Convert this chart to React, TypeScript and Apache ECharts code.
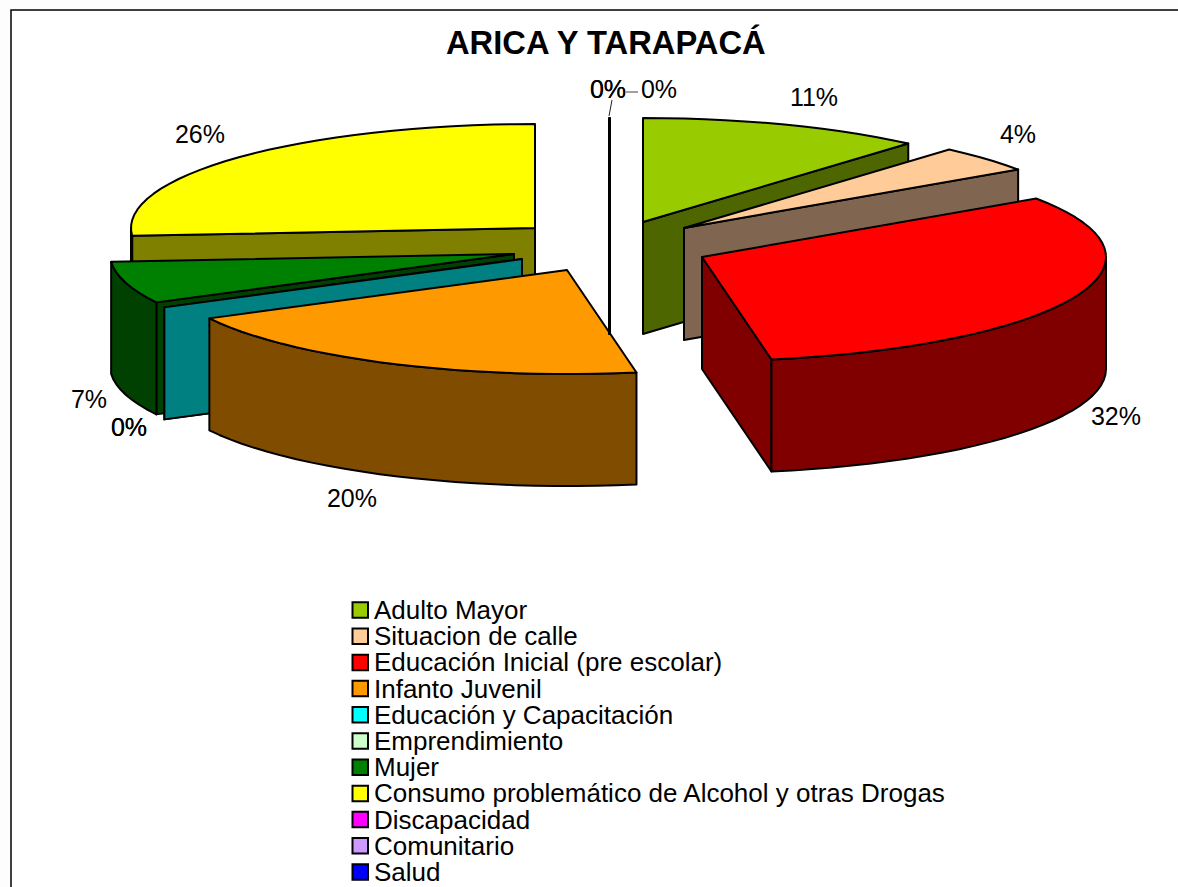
import React, { useEffect, useRef } from "react";
import * as echarts from "echarts";

const titleText = "ARICA Y TARAPACÁ";
const categories = [
  "Adulto Mayor",
  "Situacion de calle",
  "Educación Inicial (pre escolar)",
  "Infanto Juvenil",
  "Educación y Capacitación",
  "Emprendimiento",
  "Mujer",
  "Consumo problemático de Alcohol y otras Drogas",
  "Discapacidad",
  "Comunitario",
  "Salud",
];
const shares = [11.4, 4.1, 31.75, 20.05, 0, 0, 6.5, 26.2, 0, 0, 0];
const topColors = ["#99CC00", "#FFCC99", "#FF0000", "#FF9900", "#00FFFF", "#CCFFCC", "#008000", "#FFFF00", "#FF00FF", "#CC99FF", "#0000FF"];
const wallColors = ["#4D6600", "#806650", "#800000", "#804D00", "#008080", "#668066", "#004000", "#808000", "#800080", "#664D80", "#000080"];

// Layout of the exploded 3D pie
const RX = 404;
const RY = 104;
const DEPTH = 112;
const sliceApex = [
  [643, 222], [684, 228], [702, 257], [567, 270], [522, 259], [522, 259],
  [514, 254], [535, 228], [609, 222], [609.5, 222], [610, 222],
];
// back to front
const paintOrder = [7, 6, 5, 4, 3, 8, 9, 10, 0, 1, 2];
const labelCenters = [
  [814, 97], [1018, 134], [1116, 416], [352, 498], [129, 427], [129, 427],
  [89, 399], [200, 134], [608, 89], [608, 89], [659, 89],
];

const FONT = '"Liberation Sans", Arial, sans-serif';
const rad = (d: number) => (d * Math.PI) / 180;

function sliceElements(i: number) {
  const before = shares.slice(0, i).reduce((a, b) => a + b, 0);
  const a0 = (before / 100) * 360;
  const a1 = ((before + shares[i]) / 100) * 360;
  const [ax, ay] = sliceApex[i];
  const at = (deg: number, dy = 0) => [ax + RX * Math.sin(rad(deg)), ay - RY * Math.cos(rad(deg)) + dy];
  const arc = (from: number, to: number, dy = 0) => {
    const n = Math.max(1, Math.ceil(Math.abs(to - from) / 3));
    const out: number[][] = [];
    for (let k = 0; k <= n; k++) out.push(at(from + ((to - from) * k) / n, dy));
    return out;
  };
  const line = { stroke: "#000", lineWidth: 2, lineJoin: "round" };
  const wall = (deg: number) => ({
    type: "polygon",
    shape: { points: [[ax, ay], at(deg), at(deg, DEPTH), [ax, ay + DEPTH]] },
    style: { fill: wallColors[i], ...line },
  });
  const kids: any[] = [];
  if (a0 > 180 && a0 < 360 - 1e-6) kids.push(wall(a0));
  if (shares[i] === 0 && a0 >= 360 - 1e-6) kids.push(wall(360));
  if (shares[i] > 0 && a1 > 0 && a1 < 180) kids.push(wall(a1));
  const wf = Math.max(a0, 90);
  const wt = Math.min(a1, 270);
  if (shares[i] > 0 && wt > wf) {
    kids.push({
      type: "polygon",
      shape: { points: [...arc(wf, wt), ...arc(wt, wf, DEPTH)] },
      style: { fill: wallColors[i], ...line },
    });
  }
  if (shares[i] > 0) {
    kids.push({
      type: "polygon",
      shape: { points: [[ax, ay], ...arc(a0, a1)] },
      style: { fill: topColors[i], ...line },
    });
  }
  kids.push({
    type: "text",
    z2: 50,
    style: {
      text: `${Math.round(shares[i])}%`,
      x: labelCenters[i][0],
      y: labelCenters[i][1],
      align: "center",
      verticalAlign: "middle",
      font: `25px ${FONT}`,
      fill: "#000",
    },
  });
  return { type: "group", children: kids };
}

export default function App() {
  const ref = useRef<HTMLDivElement>(null);
  useEffect(() => {
    const chart = echarts.init(ref.current!, undefined, { renderer: "svg" });
    chart.setOption({
      animation: false,
      backgroundColor: "#FDFDFD",
      title: {
        text: titleText,
        left: 446,
        top: 26,
        textStyle: { fontFamily: FONT, fontWeight: "bold", fontSize: 32.7, color: "#000" },
        padding: 0,
      },
      legend: {
        orient: "vertical",
        left: 351.5,
        top: 597,
        padding: 0,
        itemWidth: 15.5,
        itemHeight: 15.5,
        itemGap: 0.2,
        icon: "rect",
        selectedMode: false,
        data: categories,
        itemStyle: { borderColor: "#000", borderWidth: 2 },
        textStyle: { fontFamily: FONT, fontSize: 26, color: "#000", lineHeight: 26, padding: [0, 0, 0, 1] },
      },
      graphic: [
        { type: "rect", z: -1, shape: { x: 11, y: 10, width: 1300, height: 1000 }, style: { fill: "#fff", stroke: "#000", lineWidth: 1.5 } },
        { type: "line", shape: { x1: 626, y1: 92, x2: 638, y2: 92 }, style: { stroke: "#444", lineWidth: 1 } },
        { type: "line", shape: { x1: 612, y1: 100, x2: 609, y2: 116 }, style: { stroke: "#222", lineWidth: 1 } },
      ],
      series: categories.map((name, i) => ({
        type: "custom",
        name,
        coordinateSystem: "none",
        z: 2 + paintOrder.indexOf(i) / 20,
        silent: true,
        itemStyle: { color: topColors[i] },
        data: [shares[i]],
        renderItem: () => sliceElements(i),
      })),
    });
    return () => chart.dispose();
  }, []);
  return <div ref={ref} style={{ position: "fixed", left: 0, top: 0, width: 1178, height: 887 }} />;
}
